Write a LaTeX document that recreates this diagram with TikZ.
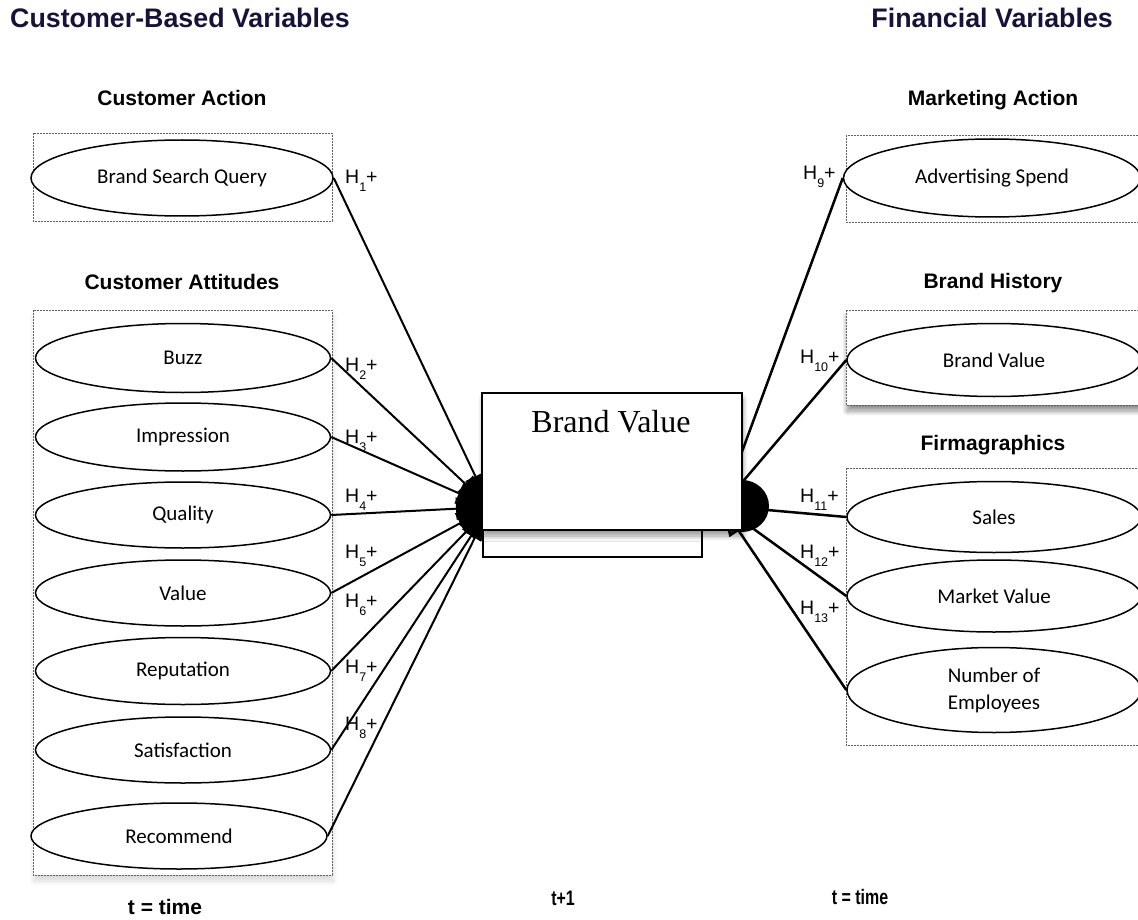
\documentclass[tikz,border=0pt]{standalone}
\usepackage{fontspec}
\usetikzlibrary{shapes.geometric,arrows.meta,shadows,shadows.blur}
\newfontfamily\arialf{Liberation Sans}
\newfontfamily\narrowf[FakeStretch=0.76]{Liberation Sans}
\newfontfamily\calibf{Carlito}
\newfontfamily\timesf{Liberation Serif}
\definecolor{navy}{RGB}{22,18,58}
\newcommand\hypsub[1]{\raisebox{-8pt}{\fontsize{12.5}{13}\selectfont #1}}
\begin{document}
\begin{tikzpicture}[x=1pt,y=-1pt,
  var/.style={ellipse, draw, line width=1.5pt, fill=white, inner sep=0pt,
    font=\calibf\fontsize{21}{27}\selectfont, align=center},
  grp/.style={draw=gray!75!black, fill=white, line width=0.8pt, dash pattern=on 1.6pt off 1.4pt},
  hdr/.style={font=\arialf\bfseries\fontsize{21}{24}\selectfont, anchor=base, inner sep=0pt},
  ttl/.style={font=\arialf\bfseries\fontsize{26.8}{30}\selectfont, text=navy, inner sep=0pt},
  hyp/.style={font=\arialf\fontsize{19.5}{22}\selectfont, anchor=base west, inner sep=0pt},
  tlab/.style={font=\narrowf\bfseries\fontsize{21}{24}\selectfont, anchor=base, inner sep=0pt},
  lnL/.style={line width=2pt, -{Triangle[length=34pt,width=22pt]}},
  lnR/.style={line width=2.5pt, -{Triangle[length=30pt,width=22pt]}},
  soft/.style={blur shadow={shadow blur steps=10, shadow xshift=1pt, shadow yshift=-6pt, shadow opacity=#1, shadow blur radius=5pt}},
]
\useasboundingbox (0,0) rectangle (1138,920);
\clip (0,0) rectangle (1138,920);

% titles
\node[ttl, anchor=base west] (tL) at (10,28) {Customer-Based Variables};
\node[ttl, anchor=base east] (tR) at (1113,28) {Financial Variables};

% group headers
\node[hdr] (hCA) at (182,106) {Customer Action};
\node[hdr] (hCAt) at (182,289) {Customer Attitudes};
\node[hdr] (hMA) at (993,106) {Marketing Action};
\node[hdr] (hBH) at (993,288) {Brand History};
\node[hdr] (hFG) at (993,450) {Firmagraphics};

% group boxes
\draw[grp] (33,133) rectangle (332,221);
\draw[grp, soft=15] (33,310) rectangle (332,875);
\draw[grp] (846,135) rectangle (1145,222);
\draw[grp, soft=45] (846,310) rectangle (1145,405);
\draw[grp] (846,468) rectangle (1145,745);

% left variables
\node[var, minimum width=302pt, minimum height=76pt] (bsq) at (182,178) {Brand Search Query};
\node[var, minimum width=295pt, minimum height=69pt] (buzz) at (183,358) {Buzz};
\node[var, minimum width=295pt, minimum height=68pt] (imp) at (183,437) {Impression};
\node[var, minimum width=295pt, minimum height=66pt] (qual) at (183,515) {Quality};
\node[var, minimum width=295pt, minimum height=66pt] (val) at (183,593) {Value};
\node[var, minimum width=295pt, minimum height=67pt] (rep) at (183,671) {Reputation};
\node[var, minimum width=295pt, minimum height=66pt] (sat) at (183,750) {Satisfaction};
\node[var, minimum width=296pt, minimum height=66pt] (rec) at (179,836) {Recommend};

% right variables
\node[var, minimum width=297pt, minimum height=78pt] (adv) at (992,178) {Advertising Spend};
\node[var, minimum width=294pt, minimum height=73pt] (hbv) at (994,360) {Brand Value};
\node[var, minimum width=294pt, minimum height=71pt] (sales) at (994,517) {Sales};
\node[var, minimum width=294pt, minimum height=72pt] (mkt) at (994,596) {Market Value};
\node[var, minimum width=294pt, minimum height=85pt] (emp) at (994,690) {Number of\\Employees};

% connectors
\coordinate (tipL) at (490,507);
\coordinate (tipR) at (722,506);
\foreach \n in {bsq,buzz,imp,qual,val,rep,sat,rec}
  \draw[lnL] (\n.east) -- (tipL);
\foreach \n in {adv,hbv,sales,mkt,emp}
  \draw[lnR] (\n.west) -- (tipR);
% arrowhead clusters
\coordinate (blobL) at (483,507);
\coordinate (blobR) at (742,506);
\fill (blobL) ellipse [x radius=26, y radius=31];
\fill (blobR) ellipse [x radius=27, y radius=26];

% central construct
\node[draw, fill=white, line width=1.3pt, minimum width=219pt, minimum height=137pt, inner sep=0pt]
  (bvback) at (592.5,488.5) {};
\node[draw, fill=white, line width=1.5pt, minimum width=260pt, minimum height=137pt, inner sep=0pt,
  soft=40]
  (bv) at (612,461.5) {};
\node[font=\timesf\fontsize{32}{36}\selectfont, anchor=base, inner sep=0pt] (bvt) at (611,432) {Brand Value};

% hypothesis labels
\node[hyp] (h1) at (345,184) {H\hypsub{1}+};
\node[hyp] (h2) at (345,371) {H\hypsub{2}+};
\node[hyp] (h3) at (345,443) {H\hypsub{3}+};
\node[hyp] (h4) at (345,502) {H\hypsub{4}+};
\node[hyp] (h5) at (345,558) {H\hypsub{5}+};
\node[hyp] (h6) at (345,607) {H\hypsub{6}+};
\node[hyp] (h7) at (345,673) {H\hypsub{7}+};
\node[hyp] (h8) at (345,730) {H\hypsub{8}+};
\node[hyp] (h9) at (803,180) {H\hypsub{9}+};
\node[hyp] (h10) at (800,363) {H\hypsub{10}+};
\node[hyp] (h11) at (800,502) {H\hypsub{11}+};
\node[hyp] (h12) at (800,558) {H\hypsub{12}+};
\node[hyp] (h13) at (800,614) {H\hypsub{13}+};

% time labels
\node[font=\arialf\bfseries\fontsize{21}{24}\selectfont, anchor=base, inner sep=0pt] (tl) at (165,914) {t = time};
\node[tlab] (tm) at (563,905) {t+1};
\node[tlab] (tr) at (860,904) {t = time};
\end{tikzpicture}
\end{document}
